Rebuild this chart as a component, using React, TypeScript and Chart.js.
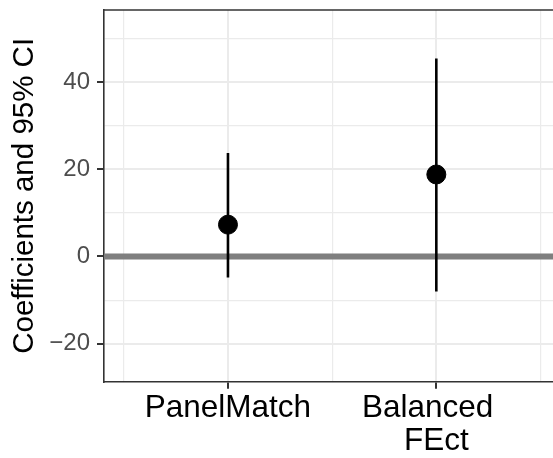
import React, { useEffect, useRef } from "react";
import { Chart, registerables } from "chart.js";

Chart.register(...registerables);

// Estimates with 95% confidence intervals, one per estimator
const methodLabels: string[][] = [["PanelMatch"], ["Balanced  ", "FEct"]];
const methodPositions = [1, 2];
const estimates = [7.3, 18.8];
const ciLower = [-4.8, -8.0];
const ciUpper = [23.7, 45.4];

// Axis breaks
const xMajorBreaks = [1, 2];
const xMinorBreaks = [0.5, 1.5, 2.5];
const yMajorBreaks = [-20, 0, 20, 40];
const yMinorBreaks = [-10, 10, 30, 50];
const xLimits = [0.405, 2.56];
const yLimits = [-28.7, 56.5];
const referenceValue = 0;

const FONT = "'Liberation Sans', Arial, Helvetica, sans-serif";
const GRID = "#ebebeb";
const AXIS = "#333333";

const panelPlugin = {
  id: "panelExtras",
  beforeDatasetsDraw(chart: any) {
    const { ctx, chartArea, scales } = chart;
    const y = scales.y.getPixelForValue(referenceValue);
    ctx.save();
    ctx.strokeStyle = "#7f7f7f";
    ctx.lineWidth = 6;
    ctx.beginPath();
    ctx.moveTo(chartArea.left, y);
    ctx.lineTo(chartArea.right, y);
    ctx.stroke();
    ctx.restore();
  },
  afterDraw(chart: any) {
    const { ctx, chartArea } = chart;
    ctx.save();
    ctx.strokeStyle = AXIS;
    ctx.lineWidth = 1.6;
    ctx.beginPath();
    ctx.moveTo(chartArea.left, chartArea.top);
    ctx.lineTo(chartArea.right, chartArea.top);
    ctx.stroke();
    ctx.restore();
  },
};

export default function App() {
  const canvasRef = useRef<HTMLCanvasElement | null>(null);

  useEffect(() => {
    if (!canvasRef.current) return;

    const pointData = methodPositions.map((x, i) => ({ x, y: estimates[i] }));
    const intervalSets = methodPositions.map((x, i) => ({
      type: "line" as const,
      data: [
        { x, y: ciLower[i] },
        { x, y: ciUpper[i] },
      ],
      borderColor: "#000000",
      borderWidth: 2.6,
      pointRadius: 0,
      order: 1,
    }));

    const isMajorX = (v: number) => xMajorBreaks.includes(v);
    const isMajorY = (v: number) => yMajorBreaks.includes(v);

    const chart = new Chart(canvasRef.current, {
      type: "scatter",
      data: {
        datasets: [
          {
            type: "scatter",
            data: pointData,
            backgroundColor: "#000000",
            borderColor: "#000000",
            pointRadius: 9.5,
            pointHoverRadius: 9.5,
            order: 0,
          },
          ...intervalSets,
        ] as any,
      },
      options: {
        animation: false,
        responsive: false,
        layout: { autoPadding: false, padding: { top: 10, left: 0, right: 0, bottom: 0 } },
        plugins: {
          legend: { display: false },
          tooltip: { enabled: false },
        },
        scales: {
          x: {
            type: "linear",
            min: xLimits[0],
            max: xLimits[1],
            afterBuildTicks: (scale: any) => {
              scale.ticks = [...xMinorBreaks, ...xMajorBreaks]
                .sort((a, b) => a - b)
                .map((value) => ({ value }));
            },
            afterFit: (scale: any) => {
              scale.height = 76.3;
              scale.paddingLeft = 0;
              scale.paddingRight = 0;
            },
            ticks: {
              autoSkip: false,
              maxRotation: 0,
              padding: 3,
              color: "#000000",
              font: { family: FONT, size: 31.5, lineHeight: 1.06 },
              callback: (value: any) => {
                const idx = methodPositions.indexOf(Number(value));
                return idx >= 0 ? methodLabels[idx] : "";
              },
            },
            grid: {
              color: GRID,
              lineWidth: (ctx: any) => (isMajorX(ctx.tick?.value) ? 2 : 1.2),
              tickColor: (ctx: any) => (isMajorX(ctx.tick?.value) ? AXIS : "rgba(0,0,0,0)"),
              tickLength: 7,
              tickWidth: 2,
            },
            border: { display: true, color: AXIS, width: 1.6 },
          },
          y: {
            type: "linear",
            min: yLimits[0],
            max: yLimits[1],
            afterBuildTicks: (scale: any) => {
              scale.ticks = [...yMinorBreaks, ...yMajorBreaks]
                .sort((a, b) => a - b)
                .map((value) => ({ value }));
            },
            afterFit: (scale: any) => {
              scale.width = 104;
              scale.paddingTop = 0;
              scale.paddingBottom = 0;
            },
            title: {
              display: true,
              text: "Coefficients and 95% CI",
              color: "#000000",
              font: { family: FONT, size: 29.5 },
              padding: { top: 7, bottom: 0 },
            },
            ticks: {
              autoSkip: false,
              padding: 7,
              color: "#4d4d4d",
              font: { family: FONT, size: 24 },
              callback: (value: any) => {
                const v = Number(value);
                if (!isMajorY(v)) return "";
                return v < 0 ? "\u2212" + Math.abs(v) : String(v);
              },
            },
            grid: {
              color: GRID,
              lineWidth: (ctx: any) => (isMajorY(ctx.tick?.value) ? 2 : 1.2),
              tickColor: (ctx: any) => (isMajorY(ctx.tick?.value) ? AXIS : "rgba(0,0,0,0)"),
              tickLength: 7,
              tickWidth: 2,
            },
            border: { display: true, color: AXIS, width: 1.6 },
          },
        },
      } as any,
      plugins: [panelPlugin],
    });

    return () => chart.destroy();
  }, []);

  return (
    <div style={{ position: "absolute", left: 0, top: 0, width: 553, height: 458, background: "#ffffff" }}>
      <canvas ref={canvasRef} width={553} height={458} />
    </div>
  );
}
